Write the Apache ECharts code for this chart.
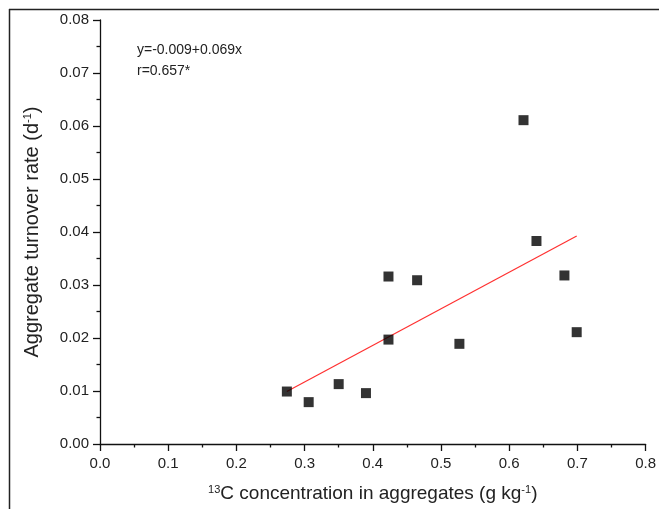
<!DOCTYPE html>
<html>
<head>
<meta charset="utf-8">
<script src="https://cdn.jsdelivr.net/npm/echarts@6/dist/echarts.min.js"></script>
<style>
html,body{margin:0;padding:0;background:#fff;}
#chart{width:659px;height:509px;}
</style>
</head>
<body>
<div id="chart"></div>
<script>
// 13C concentration in aggregates (g kg-1)
const xValues = [0.274, 0.306, 0.350, 0.390, 0.423, 0.423, 0.465, 0.527, 0.621, 0.640, 0.681, 0.699];
// Aggregate turnover rate (d-1)
const yValues = [0.0099, 0.0079, 0.0113, 0.0096, 0.0316, 0.0197, 0.0309, 0.0189, 0.0611, 0.0383, 0.0318, 0.0211];
const fitIntercept = -0.009;
const fitSlope = 0.069;
const fitText = ['y=-0.009+0.069x', 'r=0.657*'];
const xTicks = [0.0, 0.1, 0.2, 0.3, 0.4, 0.5, 0.6, 0.7, 0.8];
const yTicks = [0.00, 0.01, 0.02, 0.03, 0.04, 0.05, 0.06, 0.07, 0.08];

const points = xValues.map((x, i) => [x, yValues[i]]);
const xMin = Math.min(...xValues), xMax = Math.max(...xValues);
const fitLine = [[xMin, fitIntercept + fitSlope * xMin], [xMax, fitIntercept + fitSlope * xMax]];

const chart = echarts.init(document.getElementById('chart'), null, {renderer: 'canvas'});
const FONT = 'Liberation Sans, Arial, sans-serif';
const axisCommon = {
  axisLine: {show: true, onZero: false, lineStyle: {color: '#111', width: 1.3}},
  axisTick: {show: true, inside: false, length: 7, lineStyle: {color: '#111', width: 1.3}},
  minorTick: {show: true, splitNumber: 2, length: 3.5, lineStyle: {color: '#111', width: 1.3}},
  splitLine: {show: false}
};
const sup = {fontSize: 11, verticalAlign: 'top', padding: [0, 0, 9, 0], fontFamily: FONT, color: '#222'};
chart.setOption({
  animation: false,
  backgroundColor: '#fff',
  grid: {left: 100, right: 10.5, top: 20, bottom: 65, containLabel: false},
  xAxis: Object.assign({}, axisCommon, {
    type: 'value', min: xTicks[0], max: xTicks[xTicks.length - 1], interval: 0.1,
    axisLabel: {fontFamily: FONT, fontSize: 15, color: '#222', margin: 12,
      formatter: v => v.toFixed(1)},
    name: '{sup|13}C concentration in aggregates (g kg{sup|-1})',
    nameLocation: 'middle', nameGap: 40,
    nameTextStyle: {fontFamily: FONT, fontSize: 19, color: '#222', rich: {sup: sup}}
  }),
  yAxis: Object.assign({}, axisCommon, {
    type: 'value', min: yTicks[0], max: yTicks[yTicks.length - 1], interval: 0.01,
    axisLabel: {fontFamily: FONT, fontSize: 15, color: '#222', margin: 11,
      formatter: v => v.toFixed(2)},
    name: 'Aggregate turnover rate (d{sup|-1})',
    nameLocation: 'middle', nameGap: 58,
    nameTextStyle: {fontFamily: FONT, fontSize: 20, color: '#222', rich: {sup: sup}}
  }),
  series: [
    {
      type: 'line', data: fitLine, symbol: 'none', silent: true,
      lineStyle: {color: '#ff3030', width: 1.2}, z: 3
    },
    {
      type: 'scatter', data: points, symbol: 'rect', symbolSize: 10,
      itemStyle: {color: '#000'}, z: 4
    }
  ],
  graphic: [
    {type: 'line', shape: {x1: 9, y1: 9.5, x2: 659, y2: 9.5}, style: {stroke: '#222', lineWidth: 1.5}},
    {type: 'line', shape: {x1: 9.5, y1: 9, x2: 9.5, y2: 509}, style: {stroke: '#222', lineWidth: 1.5}},
    {type: 'text', left: 137, top: 43, style: {text: fitText[0], fontFamily: FONT, fontSize: 14, fill: '#222'}},
    {type: 'text', left: 137, top: 64, style: {text: fitText[1], fontFamily: FONT, fontSize: 14, fill: '#222'}}
  ]
});
</script>
</body>
</html>
